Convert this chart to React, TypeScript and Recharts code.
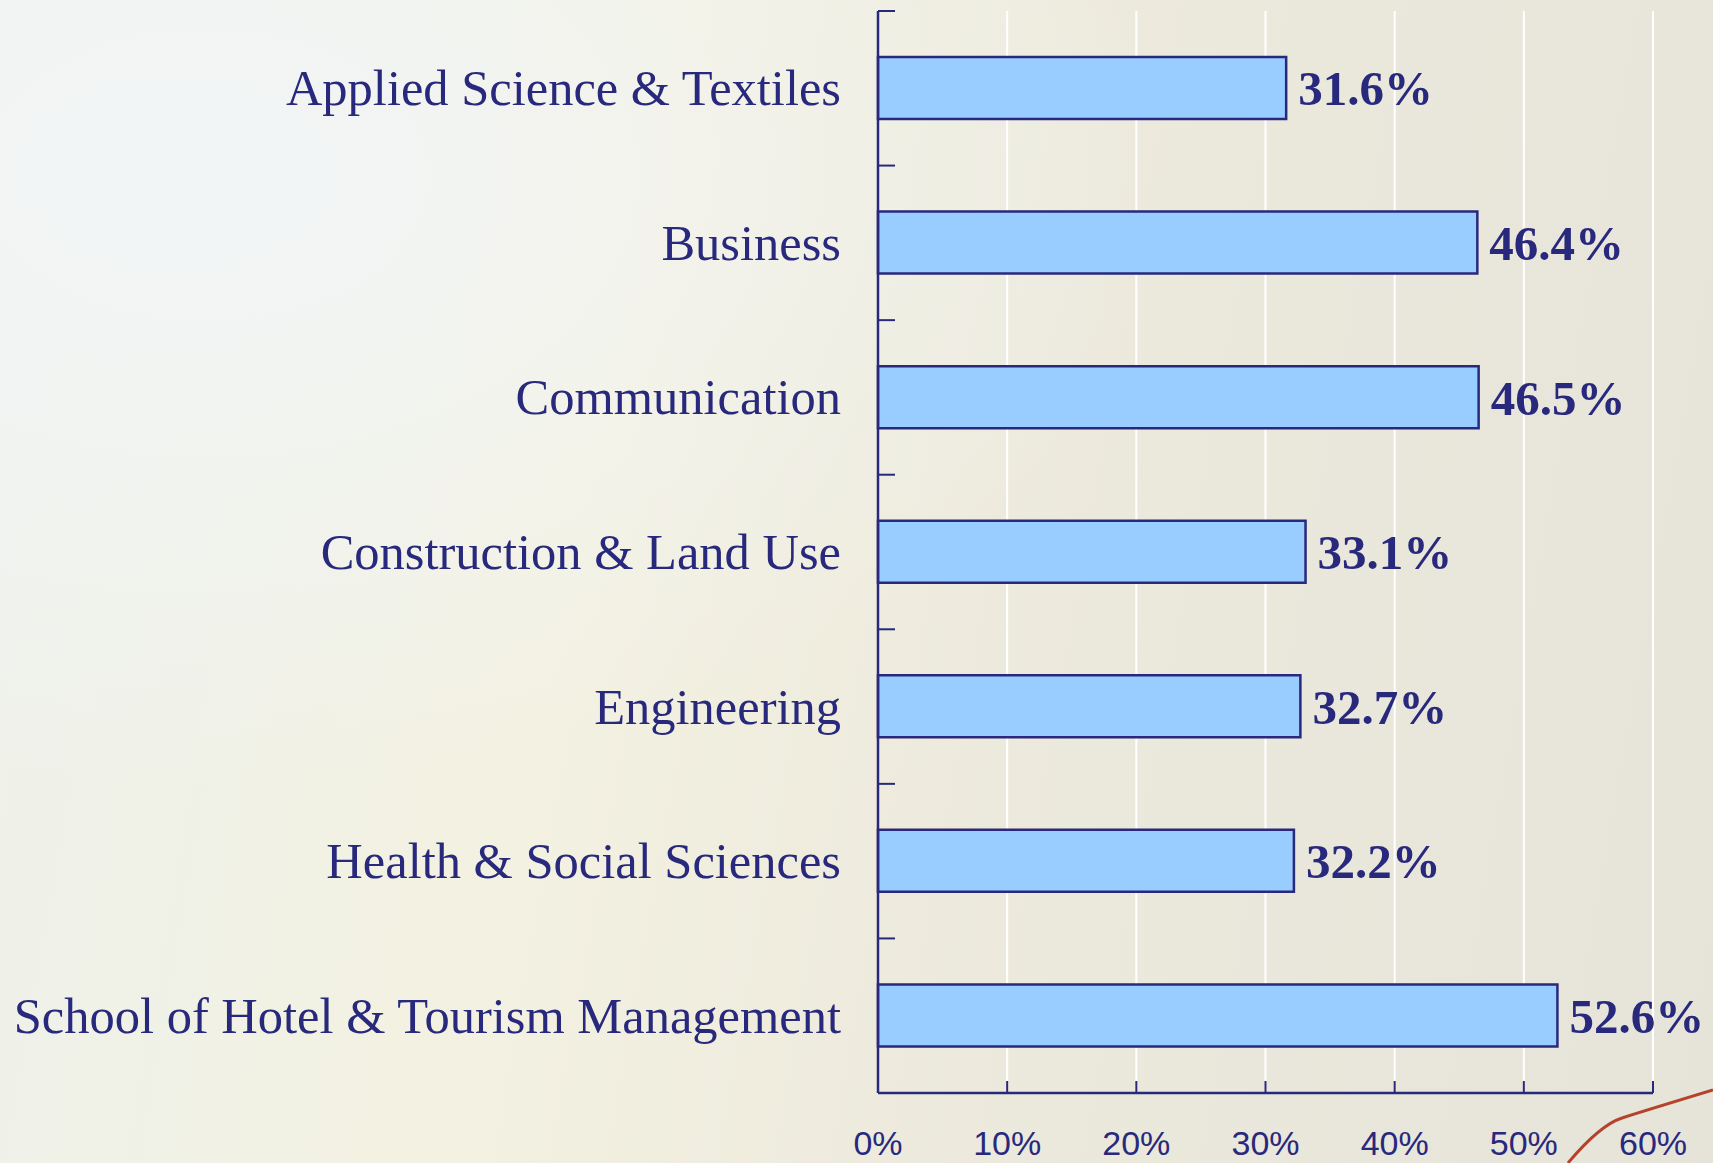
import React from "react";
import { Bar, BarChart, CartesianGrid, LabelList, XAxis, YAxis } from "recharts";

// Faculty / school share
const faculties = [
  "Applied Science & Textiles",
  "Business",
  "Communication",
  "Construction & Land Use",
  "Engineering",
  "Health & Social Sciences",
  "School of Hotel & Tourism Management",
];
const shares = [31.6, 46.4, 46.5, 33.1, 32.7, 32.2, 52.6];
const xTicks = [0, 10, 20, 30, 40, 50, 60];

const data = faculties.map((name, i) => ({ name, value: shares[i] }));

const NAVY = "#28297c";
const W = 1713;
const H = 1163;
const TOP = 11;
const XH = 70;
const Y_MARGIN = 37;
const X_MARGIN = 38;

// category label + inward tick marks at the band edges
const CatTick = (p: any) => {
  const band = p.payload?.offset ? p.payload.offset * 2 : (H - TOP - XH) / faculties.length;
  const ax = p.x + Y_MARGIN;
  const last = p.index === faculties.length - 1;
  return (
    <g>
      <line x1={ax} x2={ax + 17} y1={p.y - band / 2} y2={p.y - band / 2} stroke={NAVY} strokeWidth={2} />
      {last && <line x1={ax} x2={ax + 17} y1={p.y + band / 2} y2={p.y + band / 2} stroke={NAVY} strokeWidth={2} />}
      <text x={p.x} y={p.y} textAnchor="end" dominantBaseline="central" fill={NAVY} fontFamily="'Liberation Serif', 'Times New Roman', serif" fontSize={50.5}>
        {p.payload.value}
      </text>
    </g>
  );
};

const PctTick = (p: any) => {
  const ay = p.y - X_MARGIN;
  return (
    <g>
      <line x1={p.x} x2={p.x} y1={ay} y2={ay - 12} stroke={NAVY} strokeWidth={2} />
      <text x={p.x} y={p.y} dy="0.71em" textAnchor="middle" fill={NAVY} fontSize={34} fontFamily="'Liberation Sans', Arial, sans-serif">
        {`${p.payload.value}%`}
      </text>
    </g>
  );
};

export default function App() {
  return (
    <div
      style={{
        position: "fixed",
        left: 0,
        top: 0,
        width: W,
        height: H,
        overflow: "hidden",
        background:
          "radial-gradient(ellipse at 12% 15%, #f2f5f6 0%, rgba(242,245,246,0) 45%), linear-gradient(100deg, #eef1ec 0%, #f3f1e1 35%, #ebe8dc 65%, #e6e3d9 100%)",
      }}
    >
      <svg width={W} height={H} style={{ position: "absolute", left: 0, top: 0 }}>
        <path d="M1568 1163 Q1600 1125 1622 1118 T1713 1090" fill="none" stroke="#b5432c" strokeWidth={3} />
      </svg>
      <div style={{ position: "absolute", left: 0, top: 0 }}>
        <BarChart width={W} height={H} data={data} layout="vertical" margin={{ top: TOP, right: 60, bottom: 0, left: 0 }}>
          <CartesianGrid horizontal={false} stroke="#ffffff" strokeWidth={2} />
          <XAxis
            type="number"
            domain={[0, 60]}
            ticks={xTicks}
            height={XH}
            tickSize={0}
            tickMargin={X_MARGIN}
            tickLine={false}
            axisLine={{ stroke: NAVY, strokeWidth: 2.5 }}
            tick={PctTick}
          />
          <YAxis type="category" dataKey="name" width={878} tickSize={0} tickMargin={Y_MARGIN} tickLine={false} axisLine={{ stroke: NAVY, strokeWidth: 2.5 }} tick={CatTick} interval={0} />
          <Bar dataKey="value" barSize={62} fill="#99ccff" stroke={NAVY} strokeWidth={2.5} isAnimationActive={false}>
            <LabelList
              dataKey="value"
              position="right"
              offset={12}
              formatter={(v: any) => `${Number(v).toFixed(1)}%`}
              fill={NAVY}
              fontSize={49}
              fontWeight="bold"
              fontFamily="'Liberation Serif', 'Times New Roman', serif"
            />
          </Bar>
        </BarChart>
      </div>
    </div>
  );
}
